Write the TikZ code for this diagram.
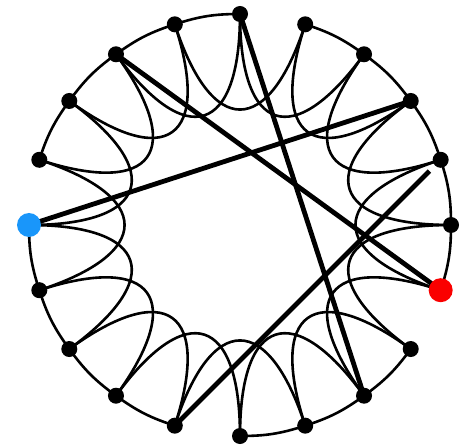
\documentclass[tikz,border=0pt]{standalone}
\usetikzlibrary{backgrounds}
\definecolor{bluenode}{RGB}{25,150,250}
\definecolor{rednode}{RGB}{250,0,0}
\begin{document}
\begin{tikzpicture}[x=1pt,y=1pt,
  dot/.style={circle,fill=black,inner sep=0pt,minimum size=16pt},
  bigdot/.style={circle,inner sep=0pt,minimum size=24pt},
  ring/.style={line width=2.6pt,black},
  loopedge/.style={line width=2.6pt,black,looseness=2.35},
  chord/.style={line width=4.8pt,black}]
\useasboundingbox (0,0) rectangle (470,447);
\begin{scope}[shift={(240,222)}]
\foreach \k in {0,...,9,11,12,13,14,15,16,17,18} {
  \node[dot] (n\k) at ({18*\k}:211) {};
}
\node[bigdot,fill=bluenode] (n10) at (180:211) {};
\node[bigdot,fill=rednode] (n19) at (342:211) {};
\end{scope}
\begin{scope}[on background layer]
\foreach \k/\j in {0/1,1/2,2/3,3/4,5/6,6/7,7/8,8/9,10/11,11/12,12/13,13/14,15/16,16/17,17/18,19/0}
  \draw[ring] (n\k.center) to[bend right=9] (n\j.center);
\foreach \k in {0,...,19} {
  \pgfmathtruncatemacro\jj{mod(\k+2,20)}
  \pgfmathsetmacro\oa{18*\k+180}
  \pgfmathsetmacro\ia{18*\k+216}
  \draw[loopedge] (n\k.center) to[out=\oa,in=\ia] (n\jj.center);
}
\draw[chord] (n10.center) -- (n2.center);
\draw[chord] (n7.center) -- (n19.center);
\draw[chord] (n5.center) -- (n17.center);
\draw[chord,shorten >=16pt] (n14.center) -- (n1.center);
\end{scope}
\end{tikzpicture}
\end{document}
